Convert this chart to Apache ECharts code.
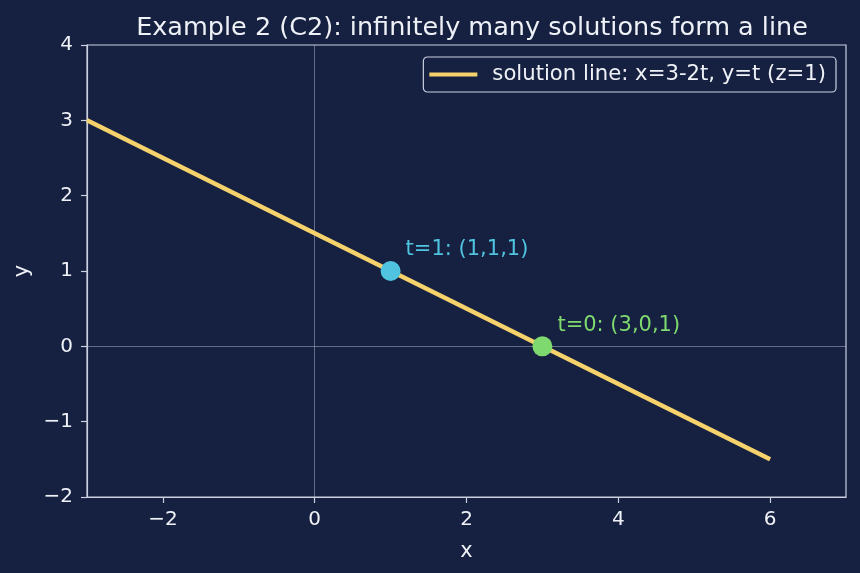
<!DOCTYPE html>
<html>
<head>
<meta charset="utf-8">
<script src="https://cdn.jsdelivr.net/npm/echarts@6/dist/echarts.min.js"></script>
<style>
  html, body { margin: 0; padding: 0; background: #162040; }
  #chart { width: 860px; height: 573px; }
</style>
</head>
<body>
<div id="chart"></div>
<script>
"use strict";
// solution line x=3-2t, y=t
const lineX = [-3, 6];
const lineY = [3, -1.5];
// marked points
const pointNames = ['t=1: (1,1,1)', 't=0: (3,0,1)'];
const pointX = [1, 3];
const pointY = [1, 0];
const pointColors = ['#4fc3df', '#7ed96f'];
// ticks
const xTicks = [-2, 0, 2, 4, 6];
const yTicks = [-2, -1, 0, 1, 2, 3, 4];

(() => {
    let chart = echarts.init(document.getElementById('chart'));
    const axisColor = '#c9d1e0';
    const textColor = '#eef1f6';
    const font = 'DejaVu Sans';
    const minus = v => String(v).replace('-', '\u2212');

    let series = [
        {
            name: 'solution line: x=3-2t, y=t (z=1)',
            type: 'line',
            data: lineX.map((x, i) => [x, lineY[i]]),
            showSymbol: false,
            lineStyle: { color: '#f5d26b', width: 4.5 },
            itemStyle: { color: '#f5d26b' },
            z: 3,
            markLine: {
                silent: true,
                symbol: 'none',
                label: { show: false },
                lineStyle: { color: 'rgba(200,210,230,0.55)', width: 0.8, type: 'solid' },
                data: [{ xAxis: 0 }, { yAxis: 0 }],
                z: 1
            }
        }
    ];
    for (let i = 0; i < pointNames.length; ++i) {
        series.push({
            name: pointNames[i],
            type: 'scatter',
            data: [[pointX[i], pointY[i]]],
            symbolSize: 20,
            itemStyle: { color: pointColors[i], opacity: 1 },
            z: 5,
            label: {
                show: true,
                formatter: pointNames[i],
                position: 'right',
                offset: [0, -21],
                color: pointColors[i],
                fontFamily: font,
                fontSize: 21
            }
        });
    }

    chart.setOption({
        backgroundColor: '#162040',
        animation: false,
        title: {
            text: 'Example 2 (C2): infinitely many solutions form a line',
            left: 467,
            textAlign: 'center',
            top: 10,
            textStyle: { color: textColor, fontFamily: font, fontSize: 25.5, fontWeight: 'normal' }
        },
        legend: {
            data: [{ name: 'solution line: x=3-2t, y=t (z=1)', icon: 'rect' }],
            right: 24,
            top: 57,
            itemWidth: 48,
            itemHeight: 4,
            itemGap: 10,
            padding: [7, 10, 7, 6],
            borderColor: axisColor,
            borderWidth: 1.2,
            borderRadius: 4,
            backgroundColor: '#162040',
            textStyle: { color: textColor, fontFamily: font, fontSize: 21.2, padding: [0, 0, 0, 10] }
        },
        grid: {
            left: 87, right: 14, top: 45, bottom: 76,
            show: true,
            borderColor: axisColor,
            borderWidth: 1.2,
            backgroundColor: 'transparent'
        },
        xAxis: {
            type: 'value',
            min: -3, max: 7,
            name: 'x',
            nameLocation: 'middle',
            nameGap: 44,
            nameTextStyle: { color: textColor, fontFamily: font, fontSize: 21 },
            axisLine: { show: true, onZero: false, lineStyle: { color: axisColor, width: 1.2 } },
            axisTick: { show: true, length: 6, customValues: xTicks, lineStyle: { color: axisColor, width: 1.2 } },
            axisLabel: { customValues: xTicks, color: textColor, fontFamily: font, fontSize: 20, margin: 13, formatter: minus },
            splitLine: { show: false }
        },
        yAxis: {
            type: 'value',
            min: -2, max: 4, interval: 1,
            name: 'y',
            nameLocation: 'middle',
            nameGap: 51,
            nameRotate: 90,
            nameTextStyle: { color: textColor, fontFamily: font, fontSize: 21 },
            axisLine: { show: true, onZero: false, lineStyle: { color: axisColor, width: 1.2 } },
            axisTick: { show: true, length: 6, lineStyle: { color: axisColor, width: 1.2 } },
            axisLabel: { color: textColor, fontFamily: font, fontSize: 20, margin: 14, formatter: minus },
            splitLine: { show: false }
        },
        series: series
    });
})();
</script>
</body>
</html>
